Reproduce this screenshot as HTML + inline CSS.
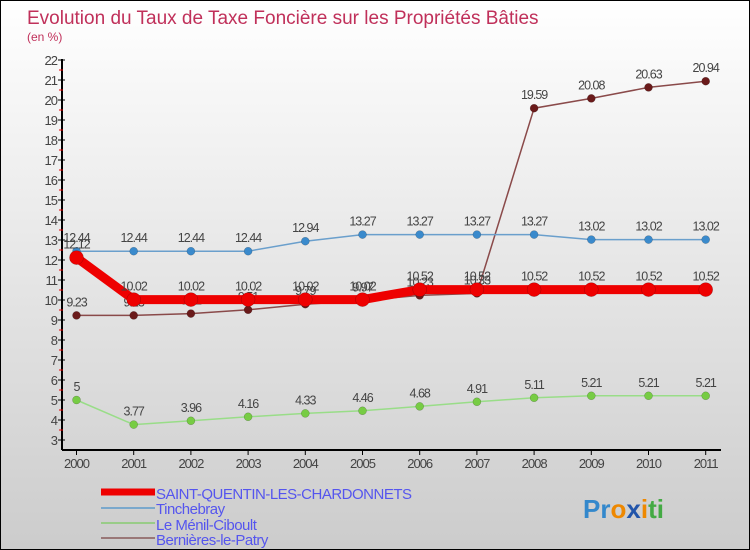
<!DOCTYPE html>
<html><head><meta charset="utf-8"><style>
body{margin:0}
#c{width:748px;height:548px;border:1px solid #000;background:linear-gradient(#fff,#ccc);position:relative;font-family:"Liberation Sans",sans-serif;overflow:hidden}
</style></head><body>
<div id="c">
<svg id="s" width="748" height="548">
<text x="26" y="23" font-size="19" fill="#c0305a">Evolution du Taux de Taxe Foncière sur les Propriétés Bâties</text>
<text x="26" y="40" font-size="12" fill="#c0305a">(en %)</text>
<g id="axes"></g><g id="series"></g>
<g>
<line x1="100" y1="491" x2="154" y2="491" stroke="#e00" stroke-width="7"/>
<text x="155" y="498" font-size="15" fill="#55e" letter-spacing="-0.5">SAINT-QUENTIN-LES-CHARDONNETS</text>
<line x1="100" y1="507" x2="154" y2="507" stroke="#7aa8cc" stroke-width="2"/>
<text x="155" y="513" font-size="15" fill="#55e" letter-spacing="-0.5">Tinchebray</text>
<line x1="100" y1="522" x2="154" y2="522" stroke="#9c8" stroke-width="2"/>
<text x="155" y="529" font-size="15" fill="#55e" letter-spacing="-0.5">Le Ménil-Ciboult</text>
<line x1="100" y1="537" x2="154" y2="537" stroke="#977" stroke-width="2"/>
<text x="155" y="544" font-size="15" fill="#55e" letter-spacing="-0.5">Bernières-le-Patry</text>
</g>
<text x="582" y="517" font-size="26" font-weight="bold"><tspan fill="#38c">Pr</tspan><tspan fill="#e80">o</tspan><tspan fill="#25a">x</tspan><tspan fill="#e80">i</tspan><tspan fill="#4a4">ti</tspan></text>
</svg></div>
<script>
const years=[2000,2001,2002,2003,2004,2005,2006,2007,2008,2009,2010,2011];
const yTicks=[3,4,5,6,7,8,9,10,11,12,13,14,15,16,17,18,19,20,21,22];
const stQuentin=[12.12,10.02,10.02,10.02,10.02,10.02,10.52,10.52,10.52,10.52,10.52,10.52];
const tinchebray=[12.44,12.44,12.44,12.44,12.94,13.27,13.27,13.27,13.27,13.02,13.02,13.02];
const menil=[5,3.77,3.96,4.16,4.33,4.46,4.68,4.91,5.11,5.21,5.21,5.21];
const bernieres=[9.23,9.23,9.32,9.51,9.79,9.97,10.23,10.33,19.59,20.08,20.63,20.94];
const NS="http://www.w3.org/2000/svg";
const x=i=>75.5+i*57.2;
const y=v=>439-(v-3)*20;
function mk(t,a,p){const e=document.createElementNS(NS,t);for(const k in a)e.setAttribute(k,a[k]);p.appendChild(e);return e;}
const ax=document.getElementById('axes');
let l=mk('line',{x1:61,y1:58,x2:61,y2:449,stroke:'#000','stroke-width':2},ax);


l=mk('line',{x1:61,y1:449,x2:720,y2:449,stroke:'#000','stroke-width':2},ax);


yTicks.forEach(v=>{
 mk('line',{x1:57,y1:y(v),x2:64,y2:y(v),stroke:'#000'},ax);
 if(v<22)mk('line',{x1:58,y1:y(v+0.5),x2:62,y2:y(v+0.5),stroke:'#e00'},ax);
 const t=mk('text',{x:56,y:y(v)+5,'font-size':13,fill:'#444','text-anchor':'end','letter-spacing':'-1'},ax);
 t.textContent=v;
 
 
});
years.forEach((yr,i)=>{
 mk('line',{x1:x(i),y1:449,x2:x(i),y2:454,stroke:'#000'},ax);
 const t=mk('text',{x:x(i),y:467,'font-size':13,fill:'#444','text-anchor':'middle','letter-spacing':'-1'},ax);
 t.textContent=yr;
 
 
});
const sg=document.getElementById('series');
function draw(data,name,col,dot,w,r){
 const g=mk('g',{},sg);
 
 
 const p=mk('polyline',{points:data.map((v,i)=>x(i)+','+y(v)).join(' '),fill:'none',stroke:col,'stroke-width':w},g);
 
 
 data.forEach((v,i)=>{
  const c=mk('circle',{cx:x(i),cy:y(v),r:r,fill:dot,stroke:'rgba(0,0,0,0.3)','stroke-width':0.5},g);
  
  
  const t=mk('text',{x:x(i),y:y(v)-9,'font-size':12.5,fill:'#444','text-anchor':'middle','letter-spacing':'-1'},g);
  t.textContent=v;
  
  
 });
}
draw(bernieres,'bernieres','#8a4a4a','#6a1a1a',1.5,4);
draw(menil,'menil','#9d8','#7c4',1.5,4);
draw(tinchebray,'tinchebray','#6a9fcc','#3a8acc',1.5,4);
draw(stQuentin,'saint-quentin','#e00','#e00',9,7);
</script>
</body></html>
